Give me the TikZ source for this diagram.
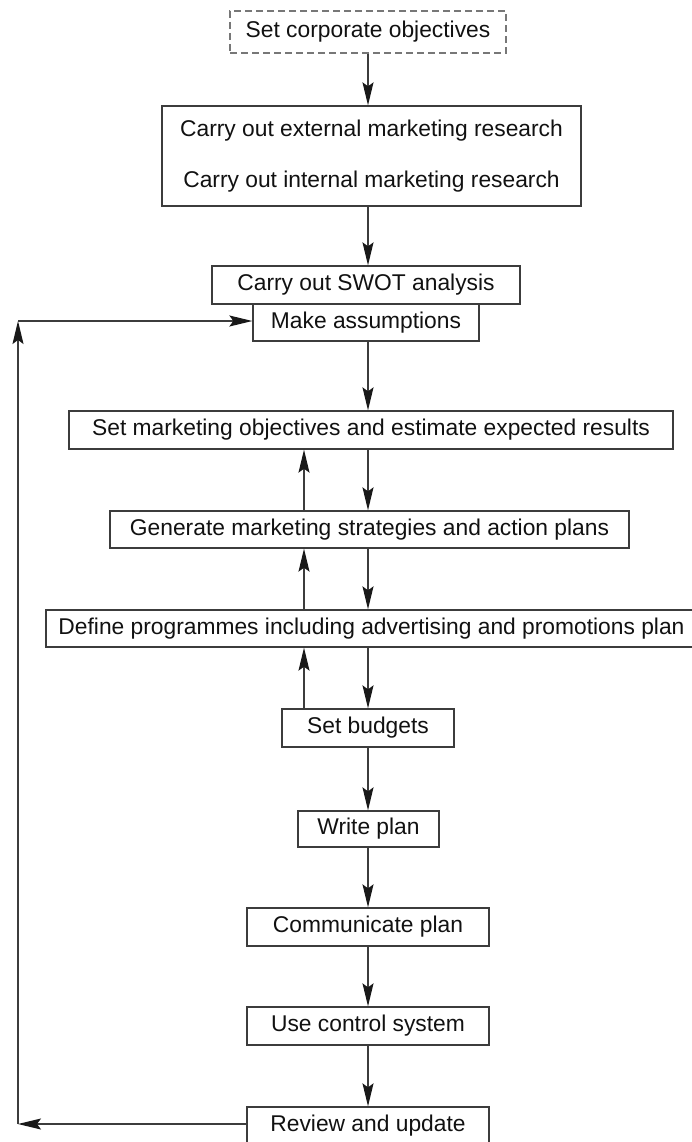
\documentclass[tikz,border=0pt]{standalone}
\usepackage{fontspec}
\setmainfont{Liberation Sans}
\usetikzlibrary{arrows.meta}
\definecolor{ln}{HTML}{3C3C3C}
\definecolor{dsh}{HTML}{777777}
\definecolor{txt}{HTML}{111111}
\tikzset{
  stepbox/.style={draw=ln, line width=1.3pt, inner sep=0pt, text=txt,
    font=\fontsize{22.8}{27}\selectfont, align=center},
  dashbox/.style={stepbox, draw=dsh, dash pattern=on 7pt off 4pt},
  arr/.style={draw=ln, line width=1.3pt, -{Stealth[length=23pt, width=11pt, inset=4pt, color=black!90]}},
  plain/.style={draw=ln, line width=1.3pt}
}
\begin{document}
\begin{tikzpicture}[x=1pt,y=-1pt]
\useasboundingbox (0,0) rectangle (691,1142);
\node[dashbox, minimum width=276pt, minimum height=42pt] (obj) at (368,32) {Set corporate objectives};
\node[stepbox, minimum width=419pt, minimum height=100pt] (res) at (371.5,156) {Carry out external marketing research\\[24pt]Carry out internal marketing research};
\node[stepbox, minimum width=308pt, minimum height=38pt] (swot) at (366,285) {Carry out SWOT analysis};
\node[stepbox, minimum width=226pt, minimum height=37pt] (ma) at (366,322.5) {Make assumptions};
\node[stepbox, minimum width=604pt, minimum height=38pt] (smo) at (371,430) {Set marketing objectives and estimate expected results};
\node[stepbox, minimum width=519pt, minimum height=37pt] (gen) at (369.5,529.5) {Generate marketing strategies and action plans};
\node[stepbox, minimum width=651pt, minimum height=37pt] (def) at (371.5,628.5) {Define programmes including advertising and promotions plan};
\node[stepbox, minimum width=172pt, minimum height=38pt] (bud) at (368,728) {Set budgets};
\node[stepbox, minimum width=141pt, minimum height=36pt] (wp) at (368.5,829) {Write plan};
\node[stepbox, minimum width=242pt, minimum height=38pt] (com) at (368,927) {Communicate plan};
\node[stepbox, minimum width=242pt, minimum height=38pt] (ctl) at (368,1026) {Use control system};
\node[stepbox, minimum width=242pt, minimum height=38pt] (rev) at (368,1126) {Review and update};
% down arrows on column x=368
\draw[arr] (obj.south -| 368,0) -- (res.north -| 368,0);
\draw[arr] (res.south -| 368,0) -- (swot.north -| 368,0);
\draw[arr] (ma.south -| 368,0) -- (smo.north -| 368,0);
\draw[arr] (smo.south -| 368,0) -- (gen.north -| 368,0);
\draw[arr] (gen.south -| 368,0) -- (def.north -| 368,0);
\draw[arr] (def.south -| 368,0) -- (bud.north -| 368,0);
\draw[arr] (bud.south -| 368,0) -- (wp.north -| 368,0);
\draw[arr] (wp.south -| 368,0) -- (com.north -| 368,0);
\draw[arr] (com.south -| 368,0) -- (ctl.north -| 368,0);
\draw[arr] (ctl.south -| 368,0) -- (rev.north -| 368,0);
% up arrows on column x=304
\draw[arr] (gen.north -| 304,0) -- (smo.south -| 304,0);
\draw[arr] (def.north -| 304,0) -- (gen.south -| 304,0);
\draw[arr] (bud.north -| 304,0) -- (def.south -| 304,0);
% feedback loop
\coordinate (bl) at (18,1124);
\coordinate (tl) at (18,321);
\draw[arr] (rev.west |- bl) -- (bl);
\draw[arr] (bl) -- (tl);
\draw[arr] (tl) -- (ma.west |- tl);
\end{tikzpicture}
\end{document}
